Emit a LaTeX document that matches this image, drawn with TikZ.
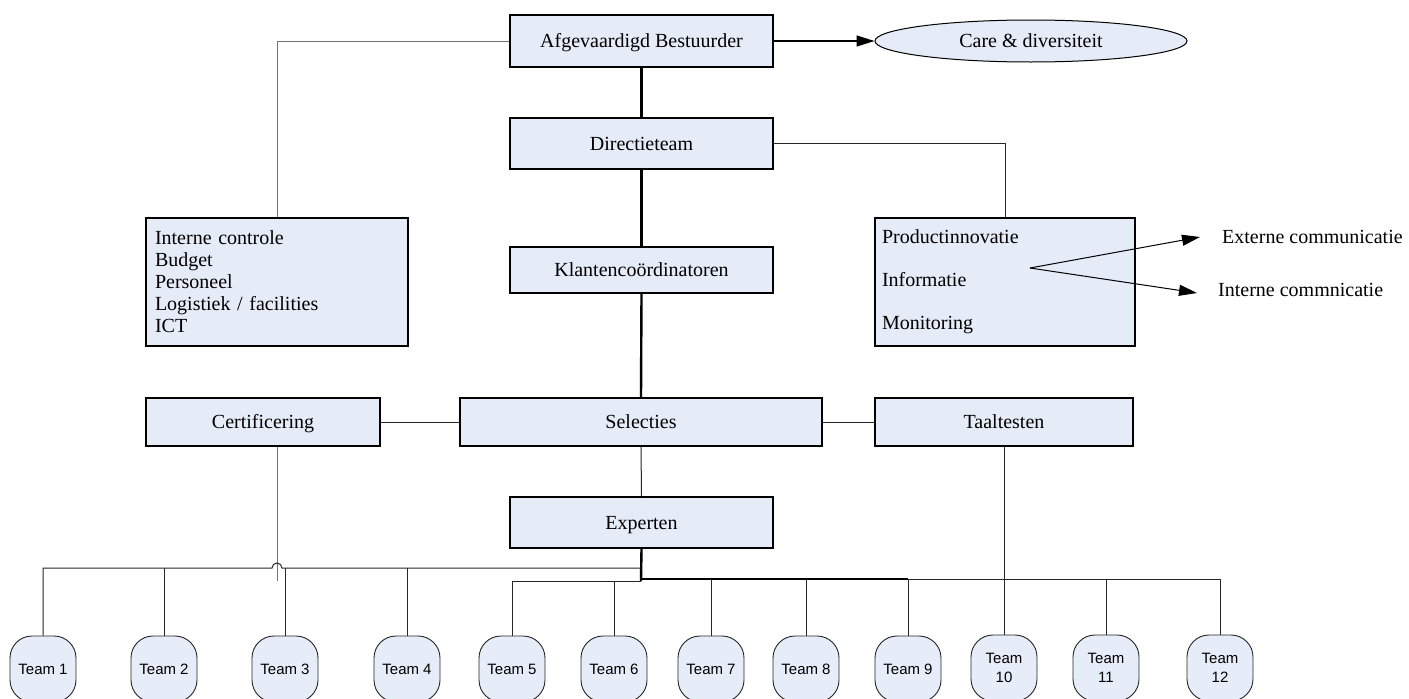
\documentclass[tikz,border=0pt]{standalone}
\usepackage{fontspec}
\setmainfont{Liberation Serif}
\newfontfamily\teamfont{Liberation Sans}
\usetikzlibrary{arrows.meta,shapes.geometric}

\definecolor{boxfill}{RGB}{229,235,247}
\definecolor{teamfill}{RGB}{231,237,248}

\begin{document}
\begin{tikzpicture}[x=1pt,y=-1pt,
  font=\fontsize{20}{24}\selectfont,
  unit/.style={rectangle, draw=black, line width=1.8pt, fill=boxfill, inner sep=0pt},
  oneline/.style={unit, text height=14pt, text depth=1pt},
  team/.style={rectangle, rounded corners=22pt, draw=black!85, line width=0.9pt,
    fill=teamfill, minimum width=66pt, minimum height=66pt, inner sep=0pt,
    font=\teamfont\fontsize{15}{19}\selectfont, align=center},
  spine/.style={line width=2.4pt},
  link/.style={line width=1pt, draw=black!85},
  faint/.style={line width=1pt, draw=black!55},
  tip/.style={-{Triangle[length=18pt,width=11pt]}, line width=1.3pt}
]
\useasboundingbox (0,0) rectangle (1409,699);

% management line
\node[oneline, minimum width=263pt, minimum height=52pt] (ab) at (641.5,41) {Afgevaardigd Bestuurder};
\node[ellipse, draw=black, line width=1pt, fill=boxfill, minimum width=312pt, minimum height=42pt,
  inner sep=0pt, text height=14pt, text depth=1pt] (care) at (1031,41) {Care \& diversiteit};
\node[oneline, minimum width=263pt, minimum height=51pt] (dt) at (641.5,143.5) {Directieteam};
\node[oneline, minimum width=263pt, minimum height=46pt] (kc) at (641.5,270) {Klantencoördinatoren};

% support boxes
\node[unit, minimum width=262pt, minimum height=128pt, text width=244pt, inner xsep=9pt,
  align=left, font=\fontsize{20}{22}\selectfont] (lb) at (277,282)
  {Interne controle\\Budget\\Personeel\\Logistiek / facilities\\ICT};
\node[unit, minimum width=260pt, minimum height=128pt, text width=246pt, inner xsep=7pt,
  align=left, font=\fontsize{20}{43}\selectfont] (rb) at (1005,282)
  {Productinnovatie\\Informatie\\Monitoring};

% communication labels
\node[anchor=west, inner sep=0pt] (ext) at (1222,237) {Externe communicatie};
\node[anchor=west, inner sep=0pt] (int) at (1218,290) {Interne commnicatie};
\coordinate (fork) at (1030,268);

% operational row
\node[oneline, minimum width=362pt, minimum height=48pt] (sel) at (641,422) {Selecties};
\node[oneline, minimum width=234pt, minimum height=48pt] (cert) at (263,422) {Certificering};
\node[oneline, minimum width=258pt, minimum height=48pt] (tt) at (1004,422) {Taaltesten};
\node[oneline, minimum width=263pt, minimum height=51pt] (exp) at (641.5,522.5) {Experten};

% teams
\node[team] (t1) at (43,669) {Team 1};
\node[team] (t2) at (164,669) {Team 2};
\node[team] (t3) at (285,669) {Team 3};
\node[team] (t4) at (407,669) {Team 4};
\node[team] (t5) at (512,669) {Team 5};
\node[team] (t6) at (614,669) {Team 6};
\node[team] (t7) at (711,669) {Team 7};
\node[team] (t8) at (806,669) {Team 8};
\node[team] (t9) at (908,669) {Team 9};
\node[team] (t10) at (1004,668) {Team\\10};
\node[team] (t11) at (1106,668) {Team\\11};
\node[team] (t12) at (1220,668) {Team\\12};

% connectors
\draw[spine] (ab.south) -- (dt.north);
\draw[spine] (dt.south) -- (kc.north);
\draw[spine] (kc.south) -- (sel.north);
\draw[tip] (ab.east) -- (care.west);
\draw[faint] (ab.west) -| (lb.north);
\draw[link] (dt.east) -| (rb.north);
\draw[tip, line width=1pt] (fork) -- ([xshift=-22pt]ext.west);
\draw[tip, line width=1pt] (fork) -- ([xshift=-21pt,yshift=-3pt]int.west);
\draw[link] (cert.east) -- (sel.west);
\draw[link] (sel.east) -- (tt.west);
\draw[link] (sel.south) -- (exp.north);

% team buses
\coordinate (jL) at (641,568);
\coordinate (jR) at (641,579);
\coordinate (jM) at (641,581);
\coordinate (hop) at (277,568);
\draw[faint] (cert.south -| hop) -- ([yshift=-13pt]hop);
\draw[spine] (exp.south) -- (jM);
\draw[link] (jL) -- ([xshift=5pt]hop) arc[start angle=0, end angle=180, radius=5pt]
  -- (t1.north |- jL) -- (t1.north);
\draw[link] (t2.north |- jL) -- (t2.north);
\draw[link] (t3.north |- jL) -- (t3.north);
\draw[link] (t4.north |- jL) -- (t4.north);
\draw[link] (jM) -- (t5.north |- jM) -- (t5.north);
\draw[link] (t6.north |- jM) -- (t6.north);
\draw[line width=2pt] (jR) -- (t9.north |- jR);
\draw[link] (t9.north |- jR) -- (t12.north |- jR) -- (t12.north);
\draw[link] (t7.north |- jR) -- (t7.north);
\draw[link] (t8.north |- jR) -- (t8.north);
\draw[link] (t9.north |- jR) -- (t9.north);
\draw[link] (t11.north |- jR) -- (t11.north);
\draw[link] (tt.south) -- (t10.north);
\end{tikzpicture}
\end{document}
